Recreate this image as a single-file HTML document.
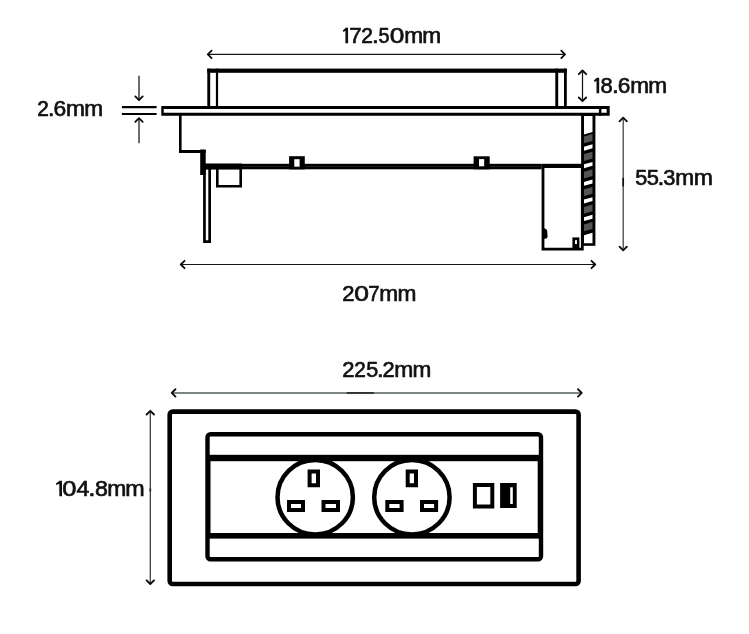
<!DOCTYPE html>
<html><head><meta charset="utf-8"><style>
html,body{margin:0;padding:0;background:#fff;width:749px;height:634px;overflow:hidden}
svg{display:block;will-change:transform}
text{font-family:"Liberation Sans",sans-serif;fill:#111;stroke:#111;stroke-width:0.65px}
</style></head><body>
<svg width="749" height="634" viewBox="0 0 749 634">
<rect width="749" height="634" fill="#fff"/>
<path fill="#111" d="M345.40 27.80H348.10V43.20H345.40Z M342.80 30.40L345.70 27.80L345.70 30.70L343.40 32.10Z"/>
<text transform="matrix(1.0436,0,0,1,349.22,0)" x="0" y="43" font-size="21.5">7</text>
<text transform="matrix(0.9772,0,0,1,361.27,0)" x="0" y="43" font-size="21.5">2</text>
<text transform="matrix(1.1429,0,0,1,371.96,0)" x="0" y="43" font-size="21.5">.</text>
<text transform="matrix(0.9205,0,0,1,378.51,0)" x="0" y="43" font-size="21.5">5</text>
<text transform="matrix(1.2215,0,0,1,389.65,0)" x="0" y="43" font-size="21.5">0</text>
<text transform="matrix(1.0573,0,0,1,404.25,0)" x="0" y="43" font-size="21.5">m</text>
<text transform="matrix(1.0573,0,0,1,422.25,0)" x="0" y="43" font-size="21.5">m</text>
<path fill="#111" d="M596.50 77.80H599.20V93.20H596.50Z M593.90 80.40L596.80 77.80L596.80 80.70L594.50 82.10Z"/>
<text transform="matrix(1.0228,0,0,1,600.55,0)" x="0" y="93" font-size="21.5">8</text>
<text transform="matrix(1.1429,0,0,1,611.96,0)" x="0" y="93" font-size="21.5">.</text>
<text transform="matrix(1.0531,0,0,1,617.81,0)" x="0" y="93" font-size="21.5">6</text>
<text transform="matrix(1.0510,0,0,1,630.16,0)" x="0" y="93" font-size="21.5">m</text>
<text transform="matrix(1.0573,0,0,1,648.35,0)" x="0" y="93" font-size="21.5">m</text>
<text transform="matrix(0.9677,0,0,1,37.17,0)" x="0" y="116" font-size="21.5">2</text>
<text transform="matrix(1.0714,0,0,1,48.07,0)" x="0" y="116" font-size="21.5">.</text>
<text transform="matrix(1.0626,0,0,1,53.60,0)" x="0" y="116" font-size="21.5">6</text>
<text transform="matrix(1.0573,0,0,1,66.05,0)" x="0" y="116" font-size="21.5">m</text>
<text transform="matrix(1.0573,0,0,1,84.25,0)" x="0" y="116" font-size="21.5">m</text>
<text transform="matrix(1.0042,0,0,1,635.16,0)" x="0" y="185" font-size="21.5">5</text>
<text transform="matrix(1.0228,0,0,1,646.65,0)" x="0" y="185" font-size="21.5">5</text>
<text transform="matrix(1.1429,0,0,1,657.46,0)" x="0" y="185" font-size="21.5">.</text>
<text transform="matrix(1.0135,0,0,1,663.26,0)" x="0" y="185" font-size="21.5">3</text>
<text transform="matrix(1.0573,0,0,1,675.25,0)" x="0" y="185" font-size="21.5">m</text>
<text transform="matrix(1.0701,0,0,1,693.74,0)" x="0" y="185" font-size="21.5">m</text>
<text transform="matrix(1.0247,0,0,1,342.33,0)" x="0" y="301" font-size="21.5">2</text>
<text transform="matrix(1.2306,0,0,1,354.34,0)" x="0" y="301" font-size="21.5">0</text>
<text transform="matrix(0.9488,0,0,1,368.29,0)" x="0" y="301" font-size="21.5">7</text>
<text transform="matrix(1.0573,0,0,1,379.25,0)" x="0" y="301" font-size="21.5">m</text>
<text transform="matrix(1.0573,0,0,1,397.45,0)" x="0" y="301" font-size="21.5">m</text>
<text transform="matrix(1.0247,0,0,1,342.33,0)" x="0" y="377" font-size="21.5">2</text>
<text transform="matrix(0.9677,0,0,1,354.27,0)" x="0" y="377" font-size="21.5">2</text>
<text transform="matrix(1.0042,0,0,1,366.26,0)" x="0" y="377" font-size="21.5">5</text>
<text transform="matrix(1.1071,0,0,1,377.02,0)" x="0" y="377" font-size="21.5">.</text>
<text transform="matrix(1.0152,0,0,1,382.44,0)" x="0" y="377" font-size="21.5">2</text>
<text transform="matrix(1.0637,0,0,1,394.24,0)" x="0" y="377" font-size="21.5">m</text>
<text transform="matrix(1.0510,0,0,1,412.56,0)" x="0" y="377" font-size="21.5">m</text>
<path fill="#111" d="M59.30 480.80H62.00V496.20H59.30Z M55.90 483.40L59.60 480.80L59.60 483.70L56.50 485.10Z"/>
<text transform="matrix(1.1851,0,0,1,62.37,0)" x="0" y="496" font-size="21.5">0</text>
<text transform="matrix(1.0762,0,0,1,76.59,0)" x="0" y="496" font-size="21.5">4</text>
<text transform="matrix(1.2143,0,0,1,88.25,0)" x="0" y="496" font-size="21.5">.</text>
<text transform="matrix(1.0786,0,0,1,95.02,0)" x="0" y="496" font-size="21.5">8</text>
<text transform="matrix(1.0637,0,0,1,107.24,0)" x="0" y="496" font-size="21.5">m</text>
<text transform="matrix(1.0828,0,0,1,125.22,0)" x="0" y="496" font-size="21.5">m</text>
<path d="M208.35 54.4H564.5" stroke="#161616" stroke-width="1.2" fill="none"/>
<path d="M211.54999999999998 50.699999999999996L207.85 54.4L211.54999999999998 58.1 M561.3 50.699999999999996L565.0 54.4L561.3 58.1" stroke="#0a0a0a" stroke-width="1.8" fill="none" stroke-linecap="round" stroke-linejoin="round"/>
<path d="M582.5 71.0V100.7" stroke="#161616" stroke-width="1.25" fill="none"/>
<path d="M578.8 74.2L582.5 70.5L586.2 74.2 M578.8 97.5L582.5 101.2L586.2 97.5" stroke="#0a0a0a" stroke-width="1.8" fill="none" stroke-linecap="round" stroke-linejoin="round"/>
<path d="M623.2 118.1V249.9" stroke="#3a4040" stroke-width="1.25" fill="none"/>
<path d="M619.5 121.3L623.2 117.6L626.9000000000001 121.3 M619.5 246.70000000000002L623.2 250.4L626.9000000000001 246.70000000000002" stroke="#0a0a0a" stroke-width="1.8" fill="none" stroke-linecap="round" stroke-linejoin="round"/>
<path d="M623.2 177.9V186.4" stroke="#111" stroke-width="1.7"/>
<path d="M181.3 264.5H594.7" stroke="#161616" stroke-width="1.2" fill="none"/>
<path d="M184.5 260.8L180.8 264.5L184.5 268.2 M591.5 260.8L595.2 264.5L591.5 268.2" stroke="#0a0a0a" stroke-width="1.8" fill="none" stroke-linecap="round" stroke-linejoin="round"/>
<path d="M121.9 107.1H156.6 M121.9 114H156.6" stroke="#000" stroke-width="2.1"/>
<path d="M139.0 75.7V99.6 M139.0 118.6V143.2" stroke="#161616" stroke-width="1.25" fill="none"/>
<path d="M135.3 96.4L139.0 100.1L142.7 96.4 M135.3 121.8L139.0 118.1L142.7 121.8" stroke="#0a0a0a" stroke-width="1.8" fill="none" stroke-linecap="round" stroke-linejoin="round"/>
<rect x="207.3" y="68.6" width="359.50" height="4.20" fill="#000"/>
<rect x="207.3" y="68.6" width="2.90" height="38.40" fill="#000"/>
<rect x="215.9" y="68.6" width="2.20" height="38.40" fill="#000"/>
<rect x="555.3" y="68.6" width="2.90" height="38.40" fill="#000"/>
<rect x="564" y="68.6" width="2.80" height="38.40" fill="#000"/>
<path fill="#000" fill-rule="evenodd" d="M161.3 106H609.7V115.8H161.3Z M163.7 109V112.8H606.7V109Z"/>
<rect x="598.9" y="106" width="2.50" height="9.80" fill="#000"/>
<rect x="179" y="115" width="2.60" height="36.50" fill="#000"/>
<rect x="179" y="150" width="26.70" height="3.00" fill="#000"/>
<rect x="200.2" y="149.5" width="5.50" height="25.50" fill="#000"/>
<path fill="#000" fill-rule="evenodd" d="M203.1 164H211V243H203.1Z M205.80 166.70V240.30H208.30V166.70Z"/>
<rect x="205" y="163.8" width="336.60" height="5.50" fill="#000"/>
<rect x="541.6" y="163.8" width="40.40" height="3.00" fill="#000"/>
<rect x="205" y="163.6" width="37.00" height="5.80" fill="#000"/>
<rect x="242" y="166.1" width="299.60" height="0.90" fill="#222"/>
<path fill="#000" fill-rule="evenodd" d="M216 166H242V187.5H216Z M218.60 168.60V184.90H239.40V168.60Z"/>
<rect x="289.1" y="156.2" width="15.70" height="13.20" fill="#000"/>
<rect x="294.3" y="159.2" width="5.30" height="7.50" fill="#fff"/>
<rect x="473.6" y="156.3" width="16.10" height="13.00" fill="#000"/>
<rect x="479" y="159.1" width="5.20" height="7.20" fill="#fff"/>
<path fill="#000" fill-rule="evenodd" d="M541.6 165H583.7V250.6H541.6Z M544.40 167.90V247.70H580.90V167.90Z"/>
<rect x="572.4" y="237.4" width="7.00" height="11.60" fill="#000"/>
<rect x="575" y="240.2" width="2.00" height="3.80" fill="#fff"/>
<path d="M544 228 L546.6 229.4 L547.2 231 L547.6 236.4 L546.6 238.4 L544 238.8Z" fill="#000"/>
<rect x="581.1" y="115" width="14.30" height="130.80" fill="#000"/>
<path d="M584.0 116.00L592.5 116.00L592.5 132.00L584.0 134.40Z" fill="#ffffff"/>
<path d="M584.0 136.50L592.5 134.10L592.5 140.90L584.0 143.30Z" fill="#555555"/>
<path d="M584.0 146.75L592.5 144.35L592.5 148.25L584.0 150.65Z" fill="#ffffff"/>
<path d="M584.0 154.10L592.5 151.70L592.5 158.50L584.0 160.90Z" fill="#555555"/>
<path d="M584.0 164.35L592.5 161.95L592.5 165.85L584.0 168.25Z" fill="#ffffff"/>
<path d="M584.0 171.70L592.5 169.30L592.5 176.10L584.0 178.50Z" fill="#555555"/>
<path d="M584.0 181.95L592.5 179.55L592.5 183.45L584.0 185.85Z" fill="#ffffff"/>
<path d="M584.0 189.30L592.5 186.90L592.5 193.70L584.0 196.10Z" fill="#555555"/>
<path d="M584.0 199.55L592.5 197.15L592.5 201.05L584.0 203.45Z" fill="#ffffff"/>
<path d="M584.0 206.90L592.5 204.50L592.5 211.30L584.0 213.70Z" fill="#555555"/>
<path d="M584.0 217.15L592.5 214.75L592.5 218.65L584.0 221.05Z" fill="#ffffff"/>
<path d="M584.0 224.50L592.5 222.10L592.5 228.90L584.0 231.30Z" fill="#555555"/>
<path d="M584.0 235.20L592.5 232.80L592.5 243.30L584.0 243.30Z" fill="#ffffff"/>
<path d="M172.25 392.95H581.2" stroke="#525b5b" stroke-width="1.5" fill="none"/>
<path d="M175.45 389.25L171.75 392.95L175.45 396.65 M578.0 389.25L581.7 392.95L578.0 396.65" stroke="#0a0a0a" stroke-width="1.8" fill="none" stroke-linecap="round" stroke-linejoin="round"/>
<path d="M346.8 392.95H373.9" stroke="#1c1f1f" stroke-width="1.5"/>
<rect x="149.4" y="488.5" width="1.8" height="3" fill="#222"/>
<path d="M150.3 411.3V583.5" stroke="#2e3a3a" stroke-width="1.25" fill="none"/>
<path d="M146.60000000000002 414.5L150.3 410.8L154.0 414.5 M146.60000000000002 580.3L150.3 584L154.0 580.3" stroke="#0a0a0a" stroke-width="1.8" fill="none" stroke-linecap="round" stroke-linejoin="round"/>
<rect x="169.70" y="411.60" width="408.90" height="172.40" rx="3" fill="none" stroke="#000" stroke-width="4.6"/>
<rect x="207.50" y="434.20" width="333.50" height="125.10" rx="3" fill="none" stroke="#000" stroke-width="4.4"/>
<rect x="207" y="454.8" width="334.00" height="6.40" fill="#000"/>
<rect x="207" y="533" width="334.00" height="5.60" fill="#000"/>
<rect x="537.7" y="458" width="3.30" height="78.00" fill="#000"/>
<rect x="208" y="458" width="2.50" height="78.00" fill="#000"/>
<ellipse cx="315.2" cy="497.2" rx="37.7" ry="37.2" fill="none" stroke="#000" stroke-width="4.5"/>
<ellipse cx="411.9" cy="497.2" rx="37.7" ry="37.2" fill="none" stroke="#000" stroke-width="4.5"/>
<path fill="#000" fill-rule="evenodd" d="M307.6 469.5H320V487.2H307.6Z M311.60 473.50V483.20H316.00V473.50Z"/>
<path fill="#000" fill-rule="evenodd" d="M287 500.1H305V512.1H287Z M291.00 504.10V508.10H301.00V504.10Z"/>
<path fill="#000" fill-rule="evenodd" d="M321.5 500.1H340V512.1H321.5Z M325.50 504.10V508.10H336.00V504.10Z"/>
<path fill="#000" fill-rule="evenodd" d="M405.7 469.5H418V487.2H405.7Z M409.70 473.50V483.20H414.00V473.50Z"/>
<path fill="#000" fill-rule="evenodd" d="M385.3 500.1H403.6V512.1H385.3Z M389.30 504.10V508.10H399.60V504.10Z"/>
<path fill="#000" fill-rule="evenodd" d="M420 500.1H438.1V512.1H420Z M424.00 504.10V508.10H434.10V504.10Z"/>
<path fill="#000" fill-rule="evenodd" d="M472.9 483H494.3V508.5H472.9Z M476.90 487.00V504.50H490.30V487.00Z"/>
<rect x="500.1" y="483" width="16.60" height="25.00" fill="#000"/>
<rect x="510.2" y="487.3" width="2.60" height="16.70" fill="#ffffff"/>
</svg>
</body></html>
